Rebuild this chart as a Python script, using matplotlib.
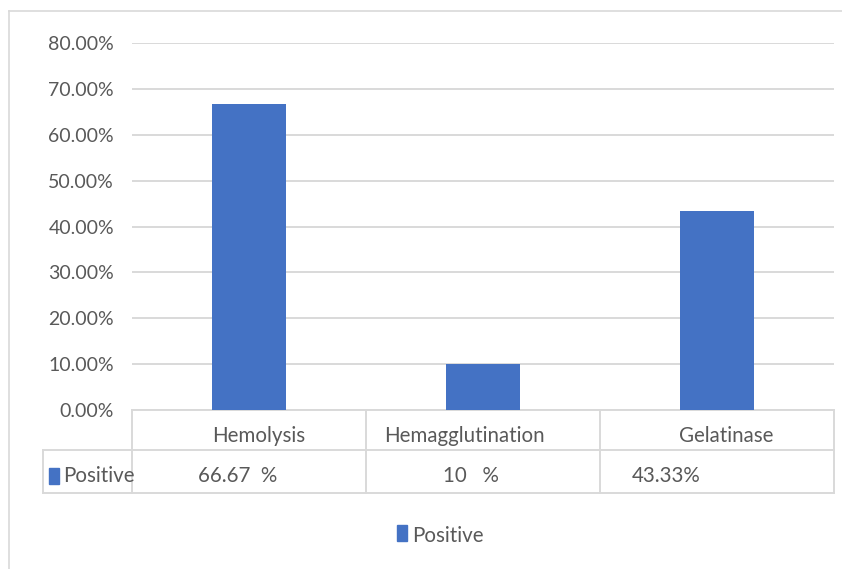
import matplotlib
matplotlib.use("Agg")
import matplotlib.pyplot as plt
from matplotlib.patches import Rectangle
from matplotlib.lines import Line2D
import matplotlib.transforms as mtransforms

# Data
categories = ["Hemolysis", "Hemagglutination", "Gelatinase"]
positive = [66.67, 10, 43.33]
value_labels = ["66.67  %", "10   %", "43.33%"]
series_name = "Positive"
y_ticks = [0, 10, 20, 30, 40, 50, 60, 70, 80]
y_tick_labels = ["0.00%", "10.00%", "20.00%", "30.00%", "40.00%",
                 "50.00%", "60.00%", "70.00%", "80.00%"]

BAR = "#4472C4"
TEXT = "#595959"
GRID = "#D9D9D9"
FONT = "Lato"
FS = 14.8

W, H = 842, 569
fig = plt.figure(figsize=(W / 100, H / 100), dpi=100)

# Outer chart frame (top and left edges)
fig.add_artist(Line2D([9 / W, 9 / W], [0, 1 - 11 / H], transform=fig.transFigure,
                      color=GRID, lw=1.2))
fig.add_artist(Line2D([9 / W, 1], [1 - 11 / H, 1 - 11 / H], transform=fig.transFigure,
                      color=GRID, lw=1.2))

# Plot area
left, right, top, bottom = 132, 834, 43, 410
ax = fig.add_axes([left / W, 1 - bottom / H, (right - left) / W, (bottom - top) / H])
x = list(range(len(categories)))
ax.bar(x, positive, width=0.32, color=BAR, zorder=3)
ax.set_xlim(-0.5, len(categories) - 0.5)
ax.set_ylim(0, 80)
ax.set_yticks(y_ticks)
ax.set_yticklabels(y_tick_labels)
ax.yaxis.grid(True, color=GRID, lw=1.4)
ax.set_axisbelow(True)
ax.set_xticks([])
for s in ax.spines.values():
    s.set_visible(False)
ax.tick_params(axis="y", length=0, pad=13, labelsize=14, labelcolor=TEXT)
for lab in ax.get_yticklabels():
    lab.set_fontfamily(FONT)

# Data table below the axis
ah = bottom - top
r1 = -40 / ah   # bottom of header row
r2 = -83 / ah   # bottom of values row
trans = mtransforms.blended_transform_factory(ax.transData, ax.transAxes)
label_left = -0.5 - 89 / 234

def hline(x0, x1, y):
    ax.add_line(Line2D([x0, x1], [y, y], transform=trans, color=GRID, lw=1.4,
                       clip_on=False))

def vline(xv, y0, y1):
    ax.add_line(Line2D([xv, xv], [y0, y1], transform=trans, color=GRID, lw=1.4,
                       clip_on=False))

n = len(categories)
hline(-0.5, n - 0.5, 0)
hline(label_left, n - 0.5, r1)
hline(label_left, n - 0.5, r2)
for i in range(n + 1):
    vline(i - 0.5, 0, r2)
vline(label_left, r1, r2)

header_offsets = [0.04, -0.08, 0.04]
for i, (c, off) in enumerate(zip(categories, header_offsets)):
    ax.text(i + off, -26 / ah, c, transform=trans, ha="center", va="center",
            fontsize=FS, color=TEXT, family=FONT)

value_x = [i - 0.05 for i in range(n)]
value_x[-1] = 2 - 0.5 + 32 / 234
value_ha = ["center", "center", "left"]
for xv, lab, ha in zip(value_x, value_labels, value_ha):
    ax.text(xv, -66 / ah, lab, transform=trans, ha=ha, va="center",
            fontsize=FS, color=TEXT, family=FONT)

# Row label with series key
ax.add_patch(Rectangle((label_left + 6 / 234, -74 / ah), 10 / 234, 16 / ah,
                       transform=trans, color=BAR, clip_on=False))
ax.text(label_left + 20 / 234, -66 / ah, series_name, transform=trans,
        ha="left", va="center", fontsize=FS, color=TEXT, family=FONT)

# Legend at the bottom
fig.add_artist(Rectangle((397 / W, 1 - 541 / H), 10 / W, 16 / H,
                         transform=fig.transFigure, color=BAR))
fig.text(412 / W, 1 - 536 / H, series_name, ha="left", va="center",
         fontsize=FS, color=TEXT, family=FONT)

fig.savefig("out.png", dpi=100, facecolor="white")
